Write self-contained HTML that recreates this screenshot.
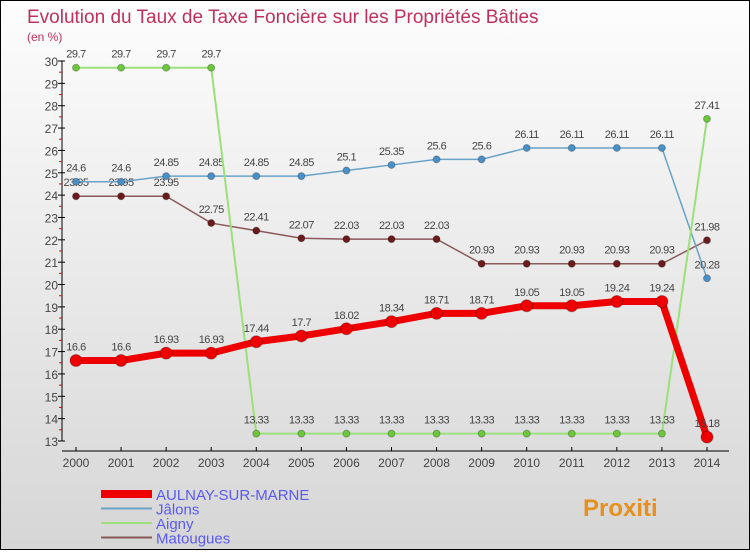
<!DOCTYPE html>
<html><head><meta charset="utf-8"><style>
body{margin:0;width:750px;height:550px;overflow:hidden;font-family:"Liberation Sans",sans-serif}
#c{position:absolute;left:0;top:0;width:748px;height:548px;border:1px solid #000;background:linear-gradient(#fdfdfd,#d6d6d6)}
</style></head><body>
<div id="c">
<svg id="s" width="748" height="548"></svg>
</div>
<script>
const years=[2000,2001,2002,2003,2004,2005,2006,2007,2008,2009,2010,2011,2012,2013,2014];
const aulnay=[16.6,16.6,16.93,16.93,17.44,17.7,18.02,18.34,18.71,18.71,19.05,19.05,19.24,19.24,13.18];
const jalons=[24.6,24.6,24.85,24.85,24.85,24.85,25.1,25.35,25.6,25.6,26.11,26.11,26.11,26.11,20.28];
const aigny=[29.7,29.7,29.7,29.7,13.33,13.33,13.33,13.33,13.33,13.33,13.33,13.33,13.33,13.33,27.41];
const matougues=[23.95,23.95,23.95,22.75,22.41,22.07,22.03,22.03,22.03,20.93,20.93,20.93,20.93,20.93,21.98];
const yTicks=[13,14,15,16,17,18,19,20,21,22,23,24,25,26,27,28,29,30];
const NS="http://www.w3.org/2000/svg",s=document.getElementById('s');
const X=i=>75+i*45.07, Y=v=>60+(30-v)*(380/17);
function el(t,a,p){const e=document.createElementNS(NS,t);for(const k in a)e.setAttribute(k,a[k]);(p||s).appendChild(e);return e;}
function txt(x,y,str,o){const e=el('text',Object.assign({x:x,y:y,'font-size':12,fill:'#444'},o||{}));e.textContent=str;return e;}
let t=txt(26,22,'Evolution du Taux de Taxe Foncière sur les Propriétés Bâties',{'font-size':19,fill:'#c0305a'});

t=txt(26,40,'(en %)',{'font-size':12,fill:'#c0305a'});

let a=el('line',{x1:61,y1:60,x2:61,y2:440,stroke:'#000'});
a=el('line',{x1:61,y1:450,x2:728,y2:450,stroke:'#000'});
yTicks.forEach(v=>{el('line',{x1:57,y1:Y(v),x2:64,y2:Y(v),stroke:'#000'});
 if(v<30)el('line',{x1:58,y1:Y(v+0.5),x2:61,y2:Y(v+0.5),stroke:'#e00'});
 const l=txt(57,Y(v)+5,String(v),{'text-anchor':'end','font-size':12});
 });
years.forEach((y,i)=>{el('line',{x1:X(i),y1:446,x2:X(i),y2:450,stroke:'#000'});
 const l=txt(X(i),466,String(y),{'text-anchor':'middle','font-size':12});
 });
function series(d,col,dot,w,r,name){
 const g=el('g',{});
 el('polyline',{points:d.map((v,i)=>X(i)+','+Y(v)).join(' '),fill:'none',stroke:col,'stroke-width':w},g);
 d.forEach((v,i)=>{const c=el('circle',{cx:X(i),cy:Y(v),r:r,fill:dot,stroke:'rgba(0,0,0,0.25)'},g);
  
  txt(X(i),Y(v)-10,String(v).replace('.',''),{'text-anchor':'middle','font-size':11,'letter-spacing':'-0.5'},g).textContent=String(v);});
}
series(matougues,'#8b5a5a','#6b1b1b',1.5,3.5,'matougues-series');
series(jalons,'#6aa3c8','#4a90c8',1.5,3.5,'jalons-series');
series(aigny,'#9be07a','#6cc73c',2,3.5,'aigny-series');
series(aulnay,'#e00','#e00',7,6,'aulnay-series');
const leg=[['AULNAY-SUR-MARNE','#e00',8],['Jâlons','#6aa3c8',2],['Aigny','#9be07a',2],['Matougues','#8b5a5a',2]];
leg.forEach((l,i)=>{const g=el('g',{});
 const y=493+i*14.5;el('line',{x1:100,y1:y,x2:151,y2:y,stroke:l[1],'stroke-width':l[2]},g);
 txt(155,y+6,l[0],{'font-size':15,fill:'#5a5af0'},g);});
t=txt(582,515,'Proxiti',{'font-size':24,'font-weight':'bold',fill:'#e69020'});

</script>
</body></html>
